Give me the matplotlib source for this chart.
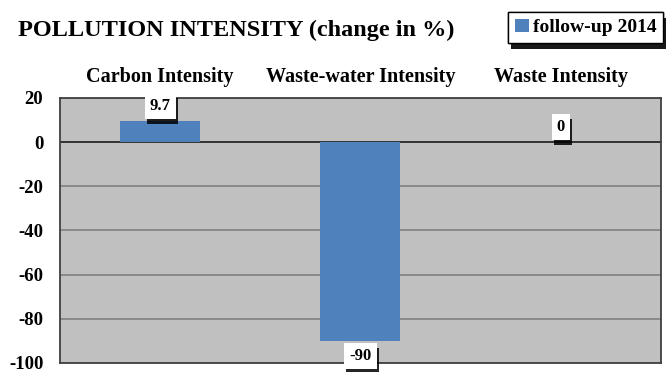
import matplotlib
matplotlib.use('Agg')
import matplotlib.pyplot as plt
import matplotlib.patheffects as pe
import numpy as np

# data
categories = ['Carbon Intensity', 'Waste-water Intensity', 'Waste Intensity']
values = [9.7, -90, 0]
value_labels = ['9.7', '-90', '0']
yticks = [20, 0, -20, -40, -60, -80, -100]
series_name = 'follow-up 2014'
title = 'POLLUTION INTENSITY (change in %)'

plt.rcParams['font.family'] = ['Liberation Serif', 'DejaVu Serif']
plt.rcParams['font.weight'] = 'bold'
plt.rcParams['axes.unicode_minus'] = False

fig = plt.figure(figsize=(6.72, 3.72), dpi=100)
ax = fig.add_axes([0.0893, 0.0242, 0.894, 0.7124])
ax.set_facecolor('#C0C0C0')

x = np.arange(len(categories))
ax.bar(x, values, width=0.4, color='#4F81BD', label=series_name, zorder=3)

ax.set_xlim(-0.5, len(categories) - 0.5)
ax.set_ylim(min(yticks), max(yticks))
ax.set_yticks(yticks)
ax.yaxis.grid(True, color='#808080', lw=1.2, zorder=1)
ax.axhline(0, color='#262626', lw=1.2, zorder=2)
for s in ax.spines.values():
    s.set_color('#404040')
    s.set_linewidth(1.3)

# category names sit above the plot
ax.xaxis.tick_top()
ax.set_xticks(x, categories)
ax.tick_params(axis='x', length=0, pad=8, labelsize=14.5)
ax.tick_params(axis='y', length=0, pad=12, labelsize=13.5)

shadow = [pe.withSimplePatchShadow(offset=(1.5, -3.5), shadow_rgbFace='black', alpha=0.85),
          pe.Normal()]

# value labels in white boxes with a dark shadow
for xi, v, lab in zip(x, values, value_labels):
    off = -5 if v < 0 else 5
    t = ax.annotate(lab, (xi, v), xytext=(0, off), textcoords='offset points',
                    ha='center', va='top' if v < 0 else 'bottom', fontsize=12,
                    bbox=dict(boxstyle='square,pad=0.3', fc='white', ec='none'),
                    zorder=5, annotation_clip=False)
    t.get_bbox_patch().set_path_effects(shadow)

leg = fig.legend(loc='upper right', bbox_to_anchor=(663 / 672, 1 - 12 / 372),
                 frameon=True, fancybox=False, edgecolor='black', framealpha=1,
                 borderaxespad=0, handlelength=0.7, handleheight=0.7,
                 handletextpad=0.2, borderpad=0.35, fontsize=14)
leg.get_frame().set_linewidth(1)
leg.get_frame().set_path_effects(
    [pe.withSimplePatchShadow(offset=(2, -4), shadow_rgbFace='black', alpha=0.9), pe.Normal()])

fig.text(18 / 672, 1 - 36 / 372, title, fontsize=17.5, ha='left', va='baseline')

fig.savefig('out.png', dpi=100, facecolor='white')
